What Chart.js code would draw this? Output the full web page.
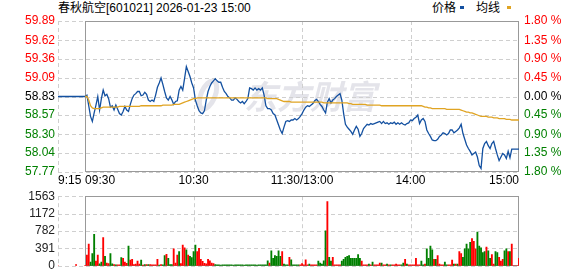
<!DOCTYPE html>
<html lang="zh-CN">
<head>
<meta charset="UTF-8">
<title>春秋航空 分时走势</title>
<script src="https://cdn.jsdelivr.net/npm/chart.js"></script>
<style>
    body { margin: 0; background: #fff; }
    #wrap { position: relative; width: 578px; height: 276px; overflow: hidden;
            font-family: "Liberation Sans", Arial, "Noto Sans CJK SC", sans-serif; color: #000; }
    canvas { position: absolute; left: 0; }
    #priceChart { top: 0; }
    #volChart { top: 186px; }
    .txt { position: absolute; top: 1px; font-size: 12px; line-height: 14px; white-space: pre; }
    .key { position: absolute; top: 6px; width: 4px; height: 3px; }
</style>
</head>
<body>
<div id="wrap">
    <div class="txt" style="left:58px">春秋航空[601021] 2026-01-23 15:00</div>
    <div class="txt" style="left:432px">价格</div>
    <div class="key" style="left:460px;background:#1350a0"></div>
    <div class="txt" style="left:476px">均线</div>
    <div class="key" style="left:507px;background:#e0a423"></div>
    <canvas id="priceChart" width="578" height="186"></canvas>
    <canvas id="volChart" width="578" height="90"></canvas>
</div>

<script>
// --- data ---
const prevClose = 58.83;
const priceTicks = [59.89, 59.62, 59.36, 59.09, 58.83, 58.57, 58.30, 58.04, 57.77];
const pctLabels = ["1.80 %", "1.35 %", "0.90 %", "0.45 %", "0.00 %", "0.45 %", "0.90 %", "1.35 %", "1.80 %"];
const volTicks = [1563, 1172, 782, 391, 0];
const timeMinutes = [-15, 0, 60, 120, 180, 240];   // minutes after 9:30 (afternoon joined at 11:30/13:00)
const timeLabels = ["9:15", "09:30", "10:30", "11:30/13:00", "14:00", "15:00"];

// pre-market auction (9:15 - 9:30)
const preMinutes = [-15, -5, 0];
const prePrice = [58.83, 58.83, 58.83];
const preVolume = [0, 28, 0];

// one value per trading minute, 0 = 9:30 ... 240 = 15:00
const price = [
    58.83, 58.85, 58.70, 58.55, 58.48, 58.60, 58.71, 58.83, 58.64, 58.80,
    58.92, 58.84, 58.86, 58.80, 58.68, 58.70, 58.64, 58.71, 58.65, 58.59,
    58.57, 58.62, 58.69, 58.64, 58.62, 58.72, 58.80, 58.85, 58.87, 58.90,
    58.90, 58.84, 58.85, 58.89, 58.86, 58.78, 58.76, 58.78, 58.76, 58.85,
    58.96, 59.02, 59.09, 59.00, 58.90, 58.81, 58.78, 58.83, 58.78, 58.72,
    58.76, 58.77, 58.92, 58.97, 58.92, 59.08, 59.25, 59.18, 59.11, 59.02,
    58.95, 58.78, 58.70, 58.63, 58.60, 58.59, 58.63, 58.78, 58.90, 58.97,
    59.02, 59.05, 59.08, 59.05, 59.03, 59.03, 58.96, 58.90, 58.87, 58.83,
    58.81, 58.78, 58.78, 58.81, 58.79, 58.76, 58.74, 58.76, 58.73, 58.76,
    58.80, 58.95, 58.94, 58.92, 58.95, 58.92, 58.94, 58.92, 58.95, 58.85,
    58.70, 58.66, 58.66, 58.64, 58.59, 58.57, 58.50, 58.43, 58.36, 58.31,
    58.40, 58.48, 58.49, 58.48, 58.50, 58.50, 58.52, 58.50, 58.52, 58.55,
    58.59, 58.64, 58.68, 58.70, 58.69, 58.71, 58.73, 58.77, 58.79, 58.76,
    58.72, 58.69, 58.64, 58.60, 58.75, 58.80, 58.74, 58.78, 58.80, 58.83,
    58.85, 58.87, 58.78, 58.59, 58.44, 58.40, 58.37, 58.34, 58.30, 58.36,
    58.41, 58.37, 58.27, 58.31, 58.38, 58.41, 58.44, 58.43, 58.45, 58.44,
    58.45, 58.46, 58.47, 58.48, 58.45, 58.48, 58.45, 58.46, 58.44, 58.46,
    58.45, 58.47, 58.44, 58.46, 58.44, 58.46, 58.44, 58.43, 58.45, 58.46,
    58.50, 58.49, 58.52, 58.54, 58.57, 58.45, 58.50, 58.52, 58.48, 58.36,
    58.31, 58.27, 58.22, 58.21, 58.21, 58.23, 58.27, 58.29, 58.32, 58.31,
    58.29, 58.31, 58.36, 58.36, 58.32, 58.34, 58.36, 58.39, 58.44, 58.31,
    58.23, 58.15, 58.10, 58.06, 58.01, 58.03, 58.05, 57.98, 57.86, 57.82,
    58.10, 58.17, 58.20, 58.14, 58.10, 58.17, 58.20, 58.10, 58.01, 57.93,
    57.98, 58.03, 58.01, 57.96, 58.06, 57.97, 58.09, 58.09, 58.09, 58.09,
    58.09
];

const avgPrice = [
    58.83, 58.83, 58.78, 58.70, 58.67, 58.66, 58.66, 58.66, 58.66, 58.67,
    58.68, 58.68, 58.68, 58.68, 58.68, 58.68, 58.68, 58.68, 58.68, 58.69,
    58.69, 58.69, 58.69, 58.69, 58.69, 58.69, 58.69, 58.69, 58.69, 58.69,
    58.69, 58.70, 58.70, 58.70, 58.70, 58.70, 58.70, 58.70, 58.70, 58.70,
    58.70, 58.70, 58.70, 58.71, 58.71, 58.71, 58.71, 58.71, 58.71, 58.72,
    58.72, 58.72, 58.72, 58.73, 58.74, 58.75, 58.76, 58.77, 58.78, 58.79,
    58.80, 58.80, 58.81, 58.81, 58.81, 58.81, 58.81, 58.81, 58.81, 58.81,
    58.81, 58.81, 58.81, 58.81, 58.81, 58.81, 58.81, 58.81, 58.81, 58.81,
    58.81, 58.81, 58.81, 58.81, 58.81, 58.81, 58.81, 58.81, 58.81, 58.81,
    58.81, 58.81, 58.81, 58.81, 58.81, 58.81, 58.81, 58.81, 58.81, 58.81,
    58.81, 58.80, 58.80, 58.80, 58.80, 58.80, 58.80, 58.79, 58.78, 58.77,
    58.76, 58.76, 58.76, 58.76, 58.75, 58.75, 58.75, 58.75, 58.75, 58.75,
    58.75, 58.75, 58.75, 58.75, 58.75, 58.75, 58.75, 58.75, 58.75, 58.75,
    58.75, 58.75, 58.74, 58.74, 58.74, 58.74, 58.74, 58.74, 58.74, 58.74,
    58.74, 58.74, 58.74, 58.74, 58.74, 58.74, 58.73, 58.73, 58.72, 58.72,
    58.72, 58.72, 58.72, 58.72, 58.72, 58.72, 58.71, 58.71, 58.71, 58.71,
    58.71, 58.71, 58.71, 58.71, 58.70, 58.70, 58.70, 58.70, 58.70, 58.70,
    58.70, 58.70, 58.70, 58.70, 58.70, 58.70, 58.70, 58.70, 58.70, 58.70,
    58.70, 58.70, 58.70, 58.70, 58.70, 58.70, 58.70, 58.69, 58.68, 58.68,
    58.67, 58.67, 58.66, 58.66, 58.66, 58.66, 58.66, 58.66, 58.66, 58.66,
    58.65, 58.65, 58.65, 58.65, 58.65, 58.65, 58.65, 58.65, 58.64, 58.63,
    58.62, 58.61, 58.61, 58.60, 58.60, 58.59, 58.58, 58.57, 58.56, 58.55,
    58.55, 58.55, 58.55, 58.54, 58.54, 58.54, 58.53, 58.53, 58.53, 58.52,
    58.52, 58.52, 58.52, 58.51, 58.51, 58.51, 58.50, 58.50, 58.50, 58.50,
    58.50
];

const volume = [
    0, 239, 486, 84, 275, 704, 105, 239, 42, 84,
    633, 211, 63, 49, 275, 42, 25, 20, 20, 20,
    183, 169, 84, 56, 443, 127, 148, 30, 40, 105,
    40, 127, 15, 30, 25, 30, 25, 20, 20, 20,
    148, 15, 30, 20, 232, 260, 169, 30, 25, 380,
    63, 239, 317, 49, 465, 401, 359, 239, 211, 183,
    317, 465, 317, 394, 148, 98, 56, 42, 148, 112,
    63, 49, 25, 20, 20, 15, 20, 20, 20, 20,
    20, 20, 15, 20, 20, 20, 20, 20, 15, 20,
    20, 20, 20, 20, 20, 15, 20, 20, 20, 20,
    20, 112, 63, 338, 169, 232, 211, 338, 211, 317,
    40, 20, 20, 190, 134, 20, 20, 20, 20, 20,
    49, 20, 134, 20, 40, 20, 20, 20, 20, 105,
    63, 40, 112, 788, 1443, 190, 105, 190, 20, 20,
    20, 20, 105, 148, 190, 211, 232, 169, 169, 169,
    169, 253, 169, 105, 20, 20, 20, 40, 20, 84,
    20, 20, 20, 63, 63, 20, 20, 40, 20, 20,
    20, 20, 40, 20, 20, 20, 63, 148, 40, 20,
    20, 20, 20, 169, 20, 20, 105, 20, 40, 380,
    169, 443, 359, 148, 148, 232, 40, 20, 20, 84,
    20, 20, 20, 127, 40, 40, 40, 317, 275, 190,
    380, 486, 380, 528, 612, 549, 380, 760, 443, 401,
    296, 317, 422, 338, 169, 253, 40, 317, 296, 190,
    105, 148, 338, 380, 317, 317, 486, 0, 0, 0,
    169
];

// 1 = up tick (red), -1 = down tick (green)
const direction = [
    1, 1, 1, -1, -1, -1, 1, 1, -1, -1,
    1, -1, 1, 1, -1, -1, 1, -1, 1, 1,
    -1, 1, 1, 1, -1, 1, 1, 1, 1, 1,
    1, -1, 1, -1, 1, -1, 1, 1, 1, 1,
    1, -1, 1, -1, -1, 1, -1, -1, -1, 1,
    1, 1, -1, 1, 1, 1, -1, 1, -1, -1,
    -1, -1, 1, 1, 1, 1, 1, 1, 1, 1,
    1, 1, -1, -1, -1, -1, -1, -1, -1, -1,
    -1, -1, -1, -1, -1, -1, -1, -1, -1, -1,
    -1, -1, -1, -1, -1, -1, -1, -1, -1, -1,
    -1, -1, 1, -1, -1, -1, -1, -1, -1, 1,
    -1, -1, -1, 1, -1, -1, -1, -1, -1, 1,
    1, 1, 1, 1, -1, 1, 1, 1, 1, -1,
    -1, -1, -1, -1, 1, -1, -1, 1, 1, 1,
    1, 1, -1, -1, -1, -1, -1, -1, -1, -1,
    -1, -1, -1, 1, 1, 1, 1, -1, 1, -1,
    1, 1, 1, 1, -1, 1, 1, -1, 1, -1,
    1, 1, 1, 1, 1, -1, -1, 1, -1, 1,
    1, 1, 1, 1, 1, 1, -1, -1, 1, -1,
    -1, -1, -1, 1, -1, 1, 1, 1, 1, -1,
    -1, 1, 1, 1, -1, 1, -1, 1, 1, -1,
    -1, -1, -1, -1, 1, 1, 1, -1, -1, -1,
    -1, -1, 1, -1, -1, 1, 1, -1, -1, 1,
    1, 1, -1, -1, 1, -1, 1, 1, 1, 1,
    1
];

// --- styling ---
const RED = "#ff0000";
const GREEN = "#008000";
const BLUE = "#1350a0";
const ORANGE = "#e0a423";
const FONT = { family: '"Liberation Sans", Arial, sans-serif', size: 12 };
Chart.defaults.font.family = FONT.family;
Chart.defaults.font.size = 12;

function levelColor(i) {
    if (i < 4) return RED;
    if (i === 4) return "#000";
    return GREEN;
}

// dashed grid + solid frame, drawn with the chart's own scales
function framePlugin(yTicks, drawWatermark) {
    return {
        id: "frame",
        beforeDatasetsDraw(chart) {
            const { ctx, chartArea: a } = chart;
            const x = chart.scales.x, y = chart.scales.y;
            ctx.save();
            if (drawWatermark) {
                ctx.fillStyle = "#e4e4ea";
                ctx.strokeStyle = "#e4e4ea";
                ctx.lineWidth = 5;
                ctx.beginPath();
                ctx.ellipse(208, 95, 7, 15, 0.4, 0, Math.PI * 2);
                ctx.stroke();
                ctx.font = 'italic bold 33px "Noto Sans CJK SC"';
                ctx.textBaseline = "middle";
                ctx.fillText("东方财富", 244, 96);
            }
            ctx.strokeStyle = "#cfcfcf";
            ctx.lineWidth = 1;
            ctx.setLineDash([4, 3]);
            ctx.beginPath();
            yTicks.forEach(v => {
                const py = Math.round(y.getPixelForValue(v)) + 0.5;
                ctx.moveTo(a.left, py);
                ctx.lineTo(a.right, py);
            });
            [-15, 60, 120, 180].forEach(m => {
                const px = Math.round(x.getPixelForValue(m)) + 0.5;
                ctx.moveTo(px, a.top);
                ctx.lineTo(px, a.bottom);
            });
            ctx.stroke();
            ctx.setLineDash([]);
            ctx.strokeStyle = "#999";
            const l = Math.round(x.getPixelForValue(0)) + 0.5;
            const r = Math.round(x.getPixelForValue(240)) - 0.5;
            const t = Math.round(a.top) + 0.5;
            const b = Math.round(a.bottom) - 0.5;
            ctx.strokeRect(l, t, r - l, b - t);
            ctx.restore();
        }
    };
}

const timeAxisPlugin = {
    id: "timeAxis",
    afterDraw(chart) {
        const { ctx } = chart;
        const x = chart.scales.x;
        ctx.save();
        ctx.font = '12px ' + FONT.family;
        ctx.fillStyle = "#000";
        ctx.textBaseline = "middle";
        timeMinutes.forEach((m, i) => {
            ctx.textAlign = i < 2 ? "left" : (i === timeMinutes.length - 1 ? "right" : "center");
            ctx.fillText(timeLabels[i], x.getPixelForValue(m), 181);
        });
        ctx.restore();
    }
};

const pricePoints = preMinutes.map((m, i) => ({ x: m, y: prePrice[i] }))
    .concat(price.map((p, i) => ({ x: i, y: p })));
const avgPoints = avgPrice.map((p, i) => ({ x: i, y: p }));

new Chart(document.getElementById("priceChart"), {
    type: "line",
    data: {
        datasets: [
            { label: "均线", data: avgPoints, borderColor: ORANGE, borderWidth: 1.3, pointRadius: 0, tension: 0 },
            { label: "价格", data: pricePoints, borderColor: BLUE, borderWidth: 1.3, pointRadius: 0, tension: 0 }
        ]
    },
    options: {
        responsive: false,
        animation: false,
        devicePixelRatio: 1,
        layout: { padding: { top: 21, bottom: 14, left: 0, right: 0 } },
        plugins: { legend: { display: false }, tooltip: { enabled: false } },
        scales: {
            x: { type: "linear", min: -15, max: 240, offset: false, display: false },
            y: {
                position: "left", min: 57.77, max: 59.89,
                afterBuildTicks: s => { s.ticks = priceTicks.map(v => ({ value: v })); },
                afterFit: s => { s.width = 58; },
                grid: { display: false, drawTicks: false }, border: { display: false },
                ticks: { autoSkip: false, padding: 3, font: FONT,
                         color: c => levelColor(c.index),
                         callback: (v, i) => priceTicks[i].toFixed(2) }
            },
            y2: {
                position: "right", min: 57.77, max: 59.89,
                afterBuildTicks: s => { s.ticks = priceTicks.map(v => ({ value: v })); },
                afterFit: s => { s.width = 59; },
                grid: { display: false, drawTicks: false }, border: { display: false },
                ticks: { autoSkip: false, padding: 5, font: FONT,
                         color: c => levelColor(c.index),
                         callback: (v, i) => pctLabels[i] }
            }
        }
    },
    plugins: [framePlugin(priceTicks, true), timeAxisPlugin]
});

const volPoints = preMinutes.map((m, i) => ({ x: m, y: preVolume[i] }))
    .concat(volume.map((v, i) => ({ x: i, y: v })));
const volColors = preMinutes.map(() => RED)
    .concat(direction.map(d => (d > 0 ? RED : GREEN)));

new Chart(document.getElementById("volChart"), {
    type: "bar",
    data: {
        datasets: [{ label: "成交量", data: volPoints, backgroundColor: volColors, barThickness: 1.2, borderWidth: 0 }]
    },
    options: {
        responsive: false,
        animation: false,
        devicePixelRatio: 1,
        layout: { padding: { top: 10, bottom: 6, left: 0, right: 59 } },
        plugins: { legend: { display: false }, tooltip: { enabled: false } },
        scales: {
            x: { type: "linear", min: -15, max: 240, offset: false, display: false },
            y: {
                position: "left", min: 0, max: 1563,
                afterBuildTicks: s => { s.ticks = volTicks.map(v => ({ value: v })); },
                afterFit: s => { s.width = 58; },
                grid: { display: false, drawTicks: false }, border: { display: false },
                ticks: { autoSkip: false, padding: 3, font: FONT, color: "#222",
                         callback: (v, i) => String(volTicks[i]) }
            }
        }
    },
    plugins: [framePlugin(volTicks, false)]
});
</script>
</body>
</html>
